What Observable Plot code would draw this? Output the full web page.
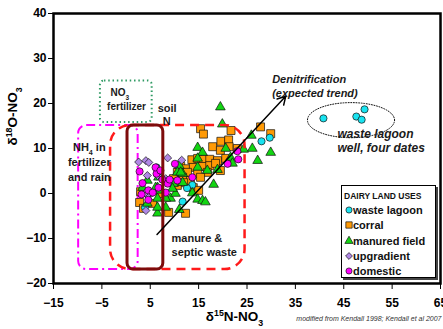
<!DOCTYPE html>
<html><head><meta charset="utf-8">
<script src="https://cdn.jsdelivr.net/npm/d3@7"></script>
<script src="https://cdn.jsdelivr.net/npm/@observablehq/plot@0.6"></script>
<style>
body{margin:0;background:#fff;}
#wrap{position:relative;width:443px;height:329px;font-family:"Liberation Sans",Arial,sans-serif;}
#legend{position:absolute;left:341px;top:185px;width:93px;height:91px;border:1px solid #000;box-shadow:2px 2px 0 #444;background:#fff;}
#legend .title{position:absolute;left:2px;top:5px;font-size:8.5px;font-weight:bold;color:#111;white-space:nowrap;}
#legend .row{position:absolute;left:2px;height:14px;line-height:14px;font-size:11px;font-weight:bold;color:#111;white-space:nowrap;}
#legend .row svg{position:absolute;left:0;top:2px;}
#legend .row span{position:absolute;left:9px;top:0;}
</style></head><body><div id="wrap"></div>
<script>
// ---- axis ticks ----
const xTicks = [-15, -5, 5, 15, 25, 35, 45, 55, 65];
const yTicks = [-20, -10, 0, 10, 20, 30, 40];

// ---- series (δ15N, δ18O) ----
const seriesNames = ["waste lagoon", "corral", "manured field", "upgradient", "domestic"];
const seriesColors = ["#19e3f0", "#ff9a05", "#12d512", "#b088e6", "#ff00ff"];
const seriesSymbols = ["circle", "square", "triangle", "diamond2", "circle"];

const lagoonX = [40.8, 47.6, 49.3, 48.7, 28.0, 29.7, 6.3, 6.7, 13.7, 11.7, 3.9, 12.6];
const lagoonY = [16.7, 17.1, 18.7, 16.4, 11.6, 12.4, 5.8, 4.2, 1.9, -1.8, -3.1, 1.2];

const corralX = [15.4, 16.0, 21.7, 27.8, 29.9, 17.9, 19.6, 21.2, 21.3, 19.5, 23.0, 13.6, 14.8, 16.0, 17.3, 18.9, 20.6,
  11.3, 12.3, 13.9, 15.8, 17.3, 18.5, 19.5, 10.6, 12.7, 14.8, 16.8, 9.8, 11.7, 13.3, 15.4, 11.9, 13.9, 15.0, 10.6,
  7.1, 5.5, 3.0, 2.8, 3.6, 8.8, 12.3];
const corralY = [14.4, 13.2, 14.0, 14.8, 13.3, 10.4, 11.6, 11.9, 10.4, 9.6, 10.0, 7.5, 7.8, 7.6, 7.6, 7.3, 7.8,
  6.0, 5.5, 5.8, 6.0, 6.2, 6.7, 5.1, 4.7, 4.7, 4.4, 4.7, 3.3, 3.6, 2.9, 3.6, 2.4, 1.3, 0.7, 1.8,
  0.0, -2.2, 0.4, -2.0, -3.3, -4.2, -4.4];

const fieldX = [19.5, 19.9, 25.9, 26.1, 29.9, 27.2, 24.3, 14.8, 15.8, 20.6, 21.6, 22.0, 14.8, 11.0, 10.6, 11.7, 14.8,
  16.8, 18.9, 18.1, 13.7, 14.8, 15.8, 16.4, 11.0, 6.5, 9.8, 11.7, 6.5, 6.5, 9.2, 10.2, 9.6, 6.7, 6.1, 7.1, 4.6, 3.4,
  4.4, 8.2, 4.4, 6.5, 8.2, 11.3];
const fieldY = [19.2, 15.4, 12.9, 10.0, 9.1, 7.3, 9.8, 10.2, 9.1, 10.0, 8.0, 6.7, 7.8, 6.2, 4.7, 4.4, 5.8,
  5.1, 5.3, 2.0, 0.1, -1.3, -1.6, -1.9, -3.6, -4.4, 2.2, 2.4, 1.3, -1.1, -1.1, 0.0, 1.1, 3.6, 1.3, 0.7, 0.0, 1.3,
  2.9, -1.1, -2.2, -3.1, -3.1, 4.7];

const upgradX = [2.6, 4.1, 4.7, 4.4, 4.1, 8.6, 6.5, 11.5, 4.4, 8.2, 4.0, 8.6];
const upgradY = [7.0, 7.3, 6.9, 4.0, -3.8, 7.9, 4.0, 7.4, -0.4, 3.3, 0.2, 2.4];

const domesticX = [10.1, 7.5, 3.4, 4.6, 6.7, 8.6, 4.6, 8.2, 6.3, 3.2, 6.1, 5.5, 13.7, 23.0, 23.2, 21.0, 9.0, 10.6, 2.8, 7.1];
const domesticY = [6.6, 3.1, 2.3, 0.7, 1.3, 2.2, -1.4, 0.2, 4.4, -0.2, 5.8, 0.2, 3.6, 9.4, 7.6, 6.6, 3.1, 2.9, 4.9, 5.1];

// ---- source regions ----
const regionNames = ["NO3 fertilizer", "NH4 in fertilizer and rain", "manure & septic waste", "soil N"];
const regionX1 = [-5.3, -9.8, -3.2, 0.3];
const regionX2 = [5.4, 2.5, 24.6, 7.7];
const regionY1 = [15.8, -16.9, -16.9, -16.9];
const regionY2 = [25.0, 15.1, 15.1, 15.1];

// waste lagoon well ellipse (center, half-axes in data units)
const lagoonEllipse = {cx: 46.5, cy: 16.3, rx: 9.0, ry: 3.9};

// denitrification trend arrow
const trend = [{x1: 6.4, y1: -9.1, x2: 33.0, y2: 21.6}];

// ---------------------------------------------------------------
const pts = (xs, ys) => xs.map((x, i) => ({x, y: ys[i]}));
const series = [pts(lagoonX, lagoonY), pts(corralX, corralY), pts(fieldX, fieldY), pts(upgradX, upgradY), pts(domesticX, domesticY)];
const regions = regionNames.map((n, i) => ({name: n, x1: regionX1[i], x2: regionX2[i], y1: regionY1[i], y2: regionY2[i]}));
const ell = d3.range(0, 361, 4).map(a => ({
  x: lagoonEllipse.cx + lagoonEllipse.rx * Math.cos(a * Math.PI / 180),
  y: lagoonEllipse.cy + lagoonEllipse.ry * Math.sin(a * Math.PI / 180)
}));

const sizes = [3.6, 4.5, 3.6, 3.6, 3.6];
const drawOrder = [1, 0, 2, 3, 4];
const dotMarks = drawOrder.map(i => Plot.dot(series[i], {
  x: "x", y: "y", symbol: () => seriesSymbols[i], r: sizes[i],
  fill: seriesColors[i], stroke: "#111", strokeWidth: 0.7
}));

const T = (txt, x, y, o = {}) => Plot.text([txt], {x: () => x, y: () => y, text: d => d,
  fontSize: 11, fontWeight: "bold", fill: "#1a1a1a", ...o});

const chart = Plot.plot({
  width: 443, height: 329,
  marginLeft: 53, marginRight: 3, marginTop: 13, marginBottom: 46,
  style: "font-family:'Liberation Sans',Arial,sans-serif;font-size:12px;font-weight:bold;color:#000;background:#fff;overflow:visible;",
  x: {domain: [-15, 65], ticks: xTicks, tickSize: 6, tickPadding: 9, label: null},
  y: {domain: [-20, 40], ticks: yTicks, tickSize: 5, tickPadding: 2, label: null},
  marks: [
    Plot.rect([regions[0]], {x1: "x1", x2: "x2", y1: "y1", y2: "y2", rx: 4, fill: "none", stroke: "#2f9a63", strokeWidth: 2, strokeDasharray: "1.5,2.8"}),
    Plot.rect([regions[1]], {x1: "x1", x2: "x2", y1: "y1", y2: "y2", rx: 8, fill: "none", stroke: "#ff00ff", strokeWidth: 2, strokeDasharray: "9,4,2,4"}),
    ...dotMarks,
    Plot.rect([regions[2]], {x1: "x1", x2: "x2", y1: "y1", y2: "y2", rx: 20, fill: "none", stroke: "#ff1a1a", strokeWidth: 2.5, strokeDasharray: "9,6"}),
    Plot.rect([regions[3]], {x1: "x1", x2: "x2", y1: "y1", y2: "y2", rx: 6, fill: "none", stroke: "#7d0b0b", strokeWidth: 3}),
    Plot.line(ell, {x: "x", y: "y", stroke: "#111", strokeWidth: 1, strokeDasharray: "1,1.6"}),
    Plot.arrow(trend, {x1: "x1", y1: "y1", x2: "x2", y2: "y2", stroke: "#000", strokeWidth: 1.5, headLength: 9}),
    T("NO₃", -3.2, 22.4, {textAnchor: "start", fontSize: 10}),
    T("fertilizer", 0.1, 19.3, {fontSize: 10}),
    T("soil", 8.5, 18.9),
    T("N", 8.4, 16.0),
    T("NH₄ in\nfertilizer\nand rain", -7.6, 7.2, {lineHeight: 1.35}),
    T("manure &\nseptic waste", 9.4, -11.4, {textAnchor: "start", lineHeight: 1.25}),
    T("Denitrification\n(expected trend)", 30.2, 24.0, {textAnchor: "start", fontStyle: "italic", lineHeight: 1.3}),
    T("waste lagoon\nwell, four dates", 43.7, 11.8, {textAnchor: "start", fontStyle: "italic", fontSize: 12, lineHeight: 1.2}),
    Plot.frame({stroke: "#000", strokeWidth: 2.5}),
    Plot.text(["δ¹⁵N-NO₃"], {frameAnchor: "bottom", text: d => d, dx: -12.5, dy: 37, fontSize: 13.5, fontWeight: "bold", fill: "#000"}),
    Plot.text(["δ¹⁸O-NO₃"], {frameAnchor: "left", text: d => d, rotate: -90, dx: -41, dy: -3, fontSize: 13.5, fontWeight: "bold", fill: "#000"}),
    Plot.text(["modified from Kendall 1998; Kendall et al 2007"], {frameAnchor: "bottom-right", text: d => d, textAnchor: "end", dx: 1, dy: 37, fontSize: 7, fontStyle: "italic", fontWeight: "normal", fill: "#333"})
  ]
});

// turn unicode super/subscript digits into real shifted tspans
const supMap = {"¹": "1", "⁵": "5", "⁸": "8"}, subMap = {"₃": "3", "₄": "4"};
const ns = "http://www.w3.org/2000/svg";
chart.querySelectorAll("text, tspan").forEach(el => {
  [...el.childNodes].forEach(node => {
    if (node.nodeType !== 3) return;
    const s = node.nodeValue;
    if (!/[¹⁵⁸₃₄]/.test(s)) return;
    const frag = document.createDocumentFragment();
    let buf = "";
    const flush = () => { if (buf) { frag.appendChild(document.createTextNode(buf)); buf = ""; } };
    for (const ch of s) {
      if (supMap[ch] || subMap[ch]) {
        flush();
        const t = document.createElementNS(ns, "tspan");
        t.setAttribute("font-size", "65%");
        t.setAttribute("baseline-shift", supMap[ch] ? "super" : "sub");
        t.textContent = supMap[ch] || subMap[ch];
        frag.appendChild(t);
      } else buf += ch;
    }
    flush();
    el.replaceChild(frag, node);
  });
});

const wrap = document.getElementById("wrap");
wrap.appendChild(chart);

// ---- legend ----
const legend = document.createElement("div");
legend.id = "legend";
legend.innerHTML = `<div class="title">DAIRY LAND USES</div>`;
const rowCenters = [24, 39, 55, 70, 85];
seriesNames.forEach((name, i) => {
  const row = document.createElement("div");
  row.className = "row";
  row.style.top = (rowCenters[i] - 7) + "px";
  const symType = {circle: d3.symbolCircle, square: d3.symbolSquare, triangle: d3.symbolTriangle, diamond2: d3.symbolDiamond2}[seriesSymbols[i]];
  const path = d3.symbol(symType, seriesSymbols[i] === "square" ? 40 : 30)();
  row.innerHTML = `<svg width="10" height="10" viewBox="-5 -5 10 10"><path d="${path}" fill="${seriesColors[i]}" stroke="#111" stroke-width="0.7"/></svg><span>${name}</span>`;
  legend.appendChild(row);
});
wrap.appendChild(legend);
</script></body></html>
